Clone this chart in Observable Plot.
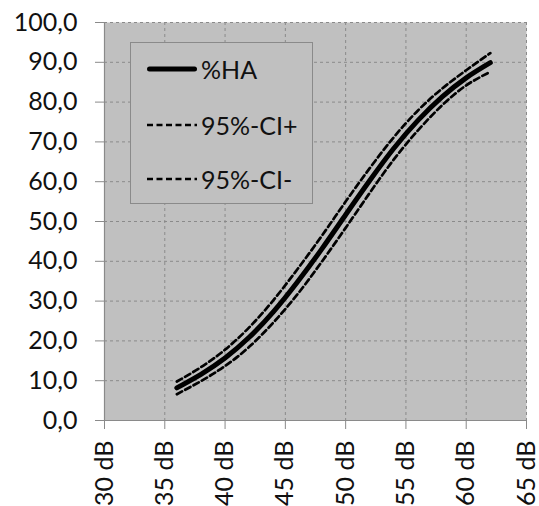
<!DOCTYPE html>
<html>
<head>
<meta charset="utf-8">
<script src="https://cdn.jsdelivr.net/npm/d3@7"></script>
<script src="https://cdn.jsdelivr.net/npm/@observablehq/plot@0.6"></script>
<style>
  html, body { margin: 0; padding: 0; background: #fff; }
  #wrap { position: relative; width: 539px; height: 506px; overflow: hidden; font-family: Lato, "Open Sans", sans-serif; }
  #legend { position: absolute; left: 130px; top: 42px; width: 183px; height: 162px; background: #c0c0c0; border: 1px solid #8a8a8a; box-sizing: border-box; }
  .row { position: absolute; left: 16px; height: 30px; display: flex; align-items: center; font-size: 25px; color: #111; }
  .row svg { margin-right: 4px; }
</style>
</head>
<body>
<div id="wrap"></div>
<script>
// Data
const dB       = [36, 38, 40, 42, 44, 46, 48, 50, 52, 54, 56, 58, 60, 62];
const pctHA    = [8.2, 11.6, 15.7, 20.9, 27.3, 34.8, 43.0, 51.7, 60.3, 68.4, 75.4, 81.3, 86.1, 89.9];
const ciUpper  = [9.8, 13.4, 17.8, 23.4, 30.2, 38.0, 46.3, 55.0, 63.4, 71.2, 77.9, 83.4, 88.0, 92.3];
const ciLower  = [6.6, 9.9, 13.7, 18.5, 24.6, 31.7, 39.8, 48.4, 57.2, 65.6, 72.9, 79.2, 84.2, 87.6];
const xTicks   = [30, 35, 40, 45, 50, 55, 60, 65];
const yTicks   = [0, 10, 20, 30, 40, 50, 60, 70, 80, 90, 100];
const seriesNames = ["%HA", "95%-CI+", "95%-CI-"];

const rows = dB.map((x, i) => ({x, ha: pctHA[i], up: ciUpper[i], lo: ciLower[i]}));
const fmtY = d => d3.format(".1f")(d).replace(".", ",");
const gridColor = "#8a8a8a";

const chart = Plot.plot({
  width: 539,
  height: 506,
  marginLeft: 104,
  marginRight: 13,
  marginTop: 22,
  marginBottom: 86,
  style: { background: "#fff", fontFamily: "Lato, 'Open Sans', sans-serif", fontSize: "25px", color: "#111" },
  x: { domain: [30, 65] },
  y: { domain: [0, 100] },
  marks: [
    Plot.frame({ fill: "#c0c0c0", stroke: null }),
    Plot.ruleY(yTicks.filter(d => d > 0), { stroke: gridColor, strokeWidth: 1, strokeDasharray: "3,3" }),
    Plot.ruleX(xTicks.filter(d => d > 30), { stroke: gridColor, strokeWidth: 1, strokeDasharray: "3,3" }),
    Plot.ruleX([30], { stroke: gridColor, strokeWidth: 1.2 }),
    Plot.ruleY([0], { stroke: gridColor, strokeWidth: 1.2 }),
    Plot.axisY({ ticks: yTicks, tickSize: 9, tickPadding: 18, tickFormat: fmtY, stroke: gridColor, fill: "#111", label: null }),
    Plot.axisX({ ticks: xTicks, tickSize: 9, tickPadding: 11, tickRotate: -90, tickFormat: d => d + " dB", stroke: gridColor, fill: "#111", label: null }),
    Plot.line(rows, { x: "x", y: "up", curve: "natural", stroke: "#000", strokeWidth: 2.7, strokeDasharray: "6,3.5" }),
    Plot.line(rows, { x: "x", y: "lo", curve: "natural", stroke: "#000", strokeWidth: 2.7, strokeDasharray: "6,3.5" }),
    Plot.line(rows, { x: "x", y: "ha", curve: "natural", stroke: "#000", strokeWidth: 5, strokeLinecap: "round" })
  ]
});

const wrap = document.getElementById("wrap");
wrap.appendChild(chart);

// Legend
const legend = document.createElement("div");
legend.id = "legend";
const tops = [11, 67, 121];
seriesNames.forEach((name, i) => {
  const r = document.createElement("div");
  r.className = "row";
  r.style.top = tops[i] + "px";
  const solid = i === 0;
  r.innerHTML = `<svg width="50" height="10"><line x1="${solid ? 2.5 : 0}" y1="5" x2="${solid ? 47.5 : 50}" y2="5" stroke="#000" stroke-width="${solid ? 5 : 2.7}" ${solid ? 'stroke-linecap="round"' : 'stroke-dasharray="6,3.5"'}/></svg><span>${name}</span>`;
  legend.appendChild(r);
});
wrap.appendChild(legend);
</script>
</body>
</html>
